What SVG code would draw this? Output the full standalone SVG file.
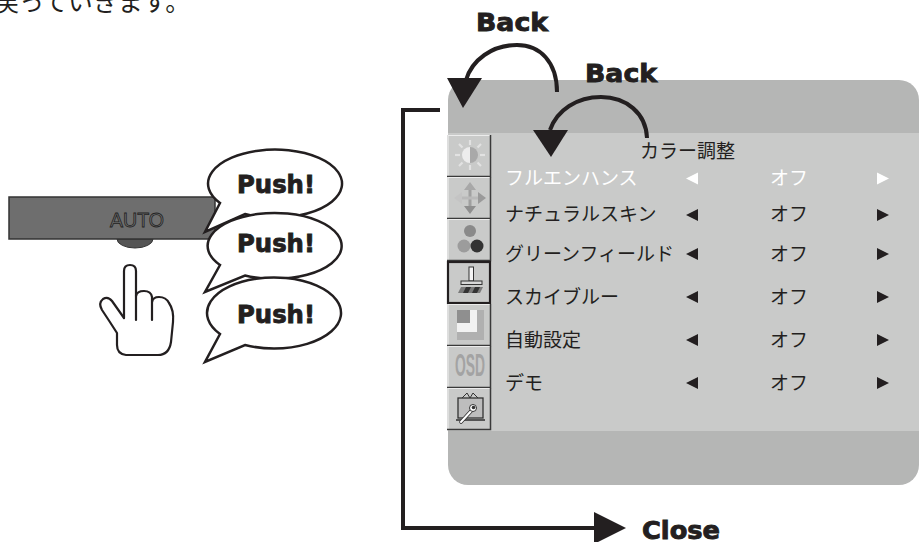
<svg xmlns="http://www.w3.org/2000/svg" width="920" height="542" viewBox="0 0 920 542">
  <style>
    .jp { font-family: "Noto Sans CJK JP", "Noto Sans", sans-serif; font-size: 19px; fill: #231f20; }
    .hl { fill: #ffffff; }
    .bold { font-family: "DejaVu Sans", "Liberation Sans", sans-serif; font-weight: bold; font-size: 25px; fill: #231f20; stroke: #231f20; stroke-width: 0.9; }
    .flow { fill: none; stroke: #231f20; stroke-width: 4; }
    .head { fill: #231f20; }
    .bubble { fill: #ffffff; stroke: #231f20; stroke-width: 2.5; stroke-linejoin: miter; }
    .tri { fill: #231f20; }
    .tri.hl { fill: #ffffff; }
    .ibox { fill: #c9cac9; }
    .iedge-d { fill: none; stroke: #3a3a3a; stroke-width: 1.5; }
    .iedge-l { fill: none; stroke: #ececec; stroke-width: 1.2; }
  </style>

  <!-- leftover caption line, cut at the top edge -->
  <text x="-6" y="11" class="jp" style="font-size:25px">戻っていきます。</text>

  <!-- AUTO key on the monitor bezel -->
  <g id="auto-key">
    <path d="M117 239 A18 9 0 0 0 153 239 Z" fill="#555555" stroke="#333" stroke-width="1"/>
    <rect x="9" y="197" width="206" height="42" fill="#6e6e6e" stroke="#333" stroke-width="1.5"/>
    <text x="137" y="227" text-anchor="middle" font-family="Liberation Sans, Arial, sans-serif" font-size="20" fill="#6e6e6e" stroke="#222" stroke-width="0.8" textLength="54" lengthAdjust="spacingAndGlyphs">AUTO</text>
  </g>

  <!-- pointing hand -->
  <g id="hand" fill="none" stroke="#231f20" stroke-width="2.2" stroke-linecap="round" stroke-linejoin="round">
    <path d="M124 318 L124 271 Q124 265 130 265 Q136 265 136 271 L136 320"/>
    <path d="M136 296 Q137 291 144 291 Q151 291 152 297 L152 320"/>
    <path d="M152 302 Q153 297 159 297 Q166 297 169 303 Q174 310 173 322 L171 342 Q169 355 158 355 L126 355 Q117 354 117 345 L117 333 Q110 322 102 310 Q98 303 103 299 Q108 296 112 301 L124 318"/>
  </g>

  <!-- speech bubbles -->
  <g id="bubble-1">
    <path class="bubble" d="M220 203 L205 232 L245 214 A67 34 0 1 0 220 203 Z"/>
    <text x="276" y="193" class="bold" text-anchor="middle" textLength="78" lengthAdjust="spacingAndGlyphs">Push!</text>
  </g>
  <g id="bubble-2">
    <path class="bubble" d="M220 265 L205 292 L245 275.5 A67 33 0 1 0 220 265 Z"/>
    <text x="276" y="252" class="bold" text-anchor="middle" textLength="78" lengthAdjust="spacingAndGlyphs">Push!</text>
  </g>
  <g id="bubble-3">
    <path class="bubble" d="M220 334 L205 362 L245 345 A67 35.5 0 1 0 220 334 Z"/>
    <text x="276" y="323" class="bold" text-anchor="middle" textLength="78" lengthAdjust="spacingAndGlyphs">Push!</text>
  </g>

  <!-- OSD menu panel -->
  <g id="osd-panel">
    <rect x="448" y="80" width="471" height="405" rx="20" fill="#b5b6b5"/>
    <rect x="448" y="133" width="471" height="298" fill="#c9cac9"/>

    <!-- icon strip -->
    <g id="icon-brightness">
      <rect class="ibox" x="447" y="135" width="44" height="42"/>
      <path class="iedge-l" d="M448 176 L448 135.5 L490 135.5"/>
      <path class="iedge-d" d="M447 176.5 L490.5 176.5 L490.5 135"/>
      <g stroke="#e2e2e2" stroke-width="2.2" stroke-linecap="butt">
        <line x1="470" y1="140" x2="470" y2="145"/>
        <line x1="470" y1="165" x2="470" y2="170"/>
        <line x1="455" y1="155" x2="460" y2="155"/>
        <line x1="480" y1="155" x2="485" y2="155"/>
        <line x1="459" y1="144" x2="462.5" y2="147.5"/>
        <line x1="481" y1="144" x2="477.5" y2="147.5"/>
        <line x1="459" y1="166" x2="462.5" y2="162.5"/>
        <line x1="481" y1="166" x2="477.5" y2="162.5"/>
      </g>
      <path d="M470 147 A8 8 0 0 0 470 163 Z" fill="#ececec"/>
      <path d="M470 147 A8 8 0 0 1 470 163 Z" fill="#a9a9a9"/>
    </g>

    <g id="icon-position">
      <rect class="ibox" x="447" y="177" width="44" height="42"/>
      <path class="iedge-l" d="M448 218 L448 177.5 L490 177.5"/>
      <path class="iedge-d" d="M447 218.5 L490.5 218.5 L490.5 177"/>
      <rect x="468.5" y="188" width="3" height="22" fill="#a0a0a0"/>
      <rect x="458" y="196.5" width="24" height="3" fill="#b9b9b9"/>
      <polygon points="470,182 464,190 476,190" fill="#a8a8a8"/>
      <polygon points="470,214 464,206 476,206" fill="#8f8f8f"/>
      <polygon points="454,198 462,192 462,204" fill="#c4c4c4"/>
      <polygon points="486,198 478,192 478,204" fill="#9a9a9a"/>
    </g>

    <g id="icon-color">
      <rect class="ibox" x="447" y="219" width="44" height="42"/>
      <path class="iedge-l" d="M448 260 L448 219.5 L490 219.5"/>
      <path class="iedge-d" d="M447 260.5 L490.5 260.5 L490.5 219"/>
      <circle cx="470" cy="231" r="6" fill="#8a8a8a"/>
      <circle cx="464" cy="246" r="6.5" fill="#9c9c9c"/>
      <circle cx="477" cy="246" r="6.5" fill="#333333"/>
    </g>

    <g id="icon-color-adjust">
      <rect class="ibox" x="447" y="261" width="44" height="43"/>
      <rect x="448" y="262" width="42" height="41" fill="none" stroke="#231f20" stroke-width="2.2"/>
      <rect x="469" y="267" width="4.5" height="14" fill="#f4f4f4" stroke="#333" stroke-width="1"/>
      <rect x="461" y="281" width="21" height="3.5" fill="#d8d8d8" stroke="#333" stroke-width="1"/>
      <polygon points="461,287 483,287 480,293 458,293" fill="#7a7a7a"/>
      <polygon points="466,287 471,287 468,293 463,293" fill="#333"/>
      <polygon points="475,287 480,287 477,293 472,293" fill="#333"/>
    </g>

    <g id="icon-image">
      <rect class="ibox" x="447" y="304" width="44" height="42"/>
      <path class="iedge-l" d="M448 345 L448 304.5 L490 304.5"/>
      <path class="iedge-d" d="M447 345.5 L490.5 345.5 L490.5 304"/>
      <rect x="457" y="310" width="27" height="30" fill="#b0b0b0"/>
      <rect x="457" y="310" width="20" height="22" fill="#f2f2f2"/>
      <rect x="457" y="310" width="13" height="13" fill="#8f8f8f"/>
    </g>

    <g id="icon-osd">
      <rect class="ibox" x="447" y="346" width="44" height="42"/>
      <path class="iedge-l" d="M448 387 L448 346.5 L490 346.5"/>
      <path class="iedge-d" d="M447 387.5 L490.5 387.5 L490.5 346"/>
      <text transform="translate(455 376) scale(1 1.5)" font-family="Liberation Sans, Arial, sans-serif" font-weight="bold" font-size="21" fill="#a3a3a3" textLength="30" lengthAdjust="spacingAndGlyphs">OSD</text>
    </g>

    <g id="icon-setup">
      <rect class="ibox" x="447" y="388" width="44" height="42"/>
      <path class="iedge-l" d="M448 429 L448 388.5 L490 388.5"/>
      <path class="iedge-d" d="M447 429.5 L490.5 429.5 L490.5 388"/>
      <path d="M462 398 L467 393 L470 398 L473 393 L478 398" fill="none" stroke="#333" stroke-width="1"/>
      <rect x="458" y="398" width="25" height="20" fill="#bdbdbd" stroke="#333" stroke-width="1.3"/>
      <line x1="456" y1="420" x2="485" y2="420" stroke="#555" stroke-width="2"/>
      <line x1="461" y1="422" x2="472" y2="410" stroke="#333" stroke-width="3.6" stroke-linecap="round"/>
      <line x1="461" y1="422" x2="472" y2="410" stroke="#fff" stroke-width="2" stroke-linecap="round"/>
      <circle cx="473" cy="408" r="3.5" fill="#fff" stroke="#333" stroke-width="1"/>
      <circle cx="473.5" cy="407.5" r="1.8" fill="#333"/>
    </g>

    <!-- menu title and entries -->
    <text x="640" y="158" class="jp">カラー調整</text>

    <g id="row-full-enhance">
      <text x="505" y="185" class="jp hl">フルエンハンス</text>
      <polygon class="tri hl" points="686,178.5 698,172.5 698,184.5"/>
      <text x="770" y="185" class="jp hl">オフ</text>
      <polygon class="tri hl" points="889,178.5 877,172.5 877,184.5"/>
    </g>
    <g id="row-natural-skin">
      <text x="505" y="221" class="jp">ナチュラルスキン</text>
      <polygon class="tri" points="686,215 698,209 698,221"/>
      <text x="770" y="221" class="jp">オフ</text>
      <polygon class="tri" points="889,215 877,209 877,221"/>
    </g>
    <g id="row-green-field">
      <text x="505" y="261" class="jp">グリーンフィールド</text>
      <polygon class="tri" points="686,254 698,248 698,260"/>
      <text x="770" y="261" class="jp">オフ</text>
      <polygon class="tri" points="889,254 877,248 877,260"/>
    </g>
    <g id="row-sky-blue">
      <text x="505" y="304" class="jp">スカイブルー</text>
      <polygon class="tri" points="686,297 698,291 698,303"/>
      <text x="770" y="304" class="jp">オフ</text>
      <polygon class="tri" points="889,297 877,291 877,303"/>
    </g>
    <g id="row-auto-setting">
      <text x="505" y="347" class="jp">自動設定</text>
      <polygon class="tri" points="686,340 698,334 698,346"/>
      <text x="770" y="347" class="jp">オフ</text>
      <polygon class="tri" points="889,340 877,334 877,346"/>
    </g>
    <g id="row-demo">
      <text x="505" y="390" class="jp">デモ</text>
      <polygon class="tri" points="686,383 698,377 698,389"/>
      <text x="770" y="390" class="jp">オフ</text>
      <polygon class="tri" points="889,383 877,377 877,389"/>
    </g>
  </g>

  <!-- navigation arrows -->
  <g id="connectors">
    <path class="flow" d="M557 92 C557 62 540 45 517 45 C492 45 472 60 466 80"/>
    <polygon class="head" points="447,78 482,78 463,108"/>
    <path class="flow" d="M647 138 C646 113 626 97 601 97 C577 97 557 110 550 130"/>
    <polygon class="head" points="533,130 568,130 551,157"/>
    <path class="flow" d="M440 110 L403 110 L403 528 L600 528" stroke-linejoin="miter"/>
    <polygon class="head" points="594,512 594,544 626,528"/>
  </g>

  <!-- navigation labels -->
  <text x="476" y="31" class="bold" textLength="72" lengthAdjust="spacingAndGlyphs">Back</text>
  <text x="585" y="82" class="bold" textLength="72" lengthAdjust="spacingAndGlyphs">Back</text>
  <text x="642" y="539" class="bold" textLength="78" lengthAdjust="spacingAndGlyphs">Close</text>
</svg>
